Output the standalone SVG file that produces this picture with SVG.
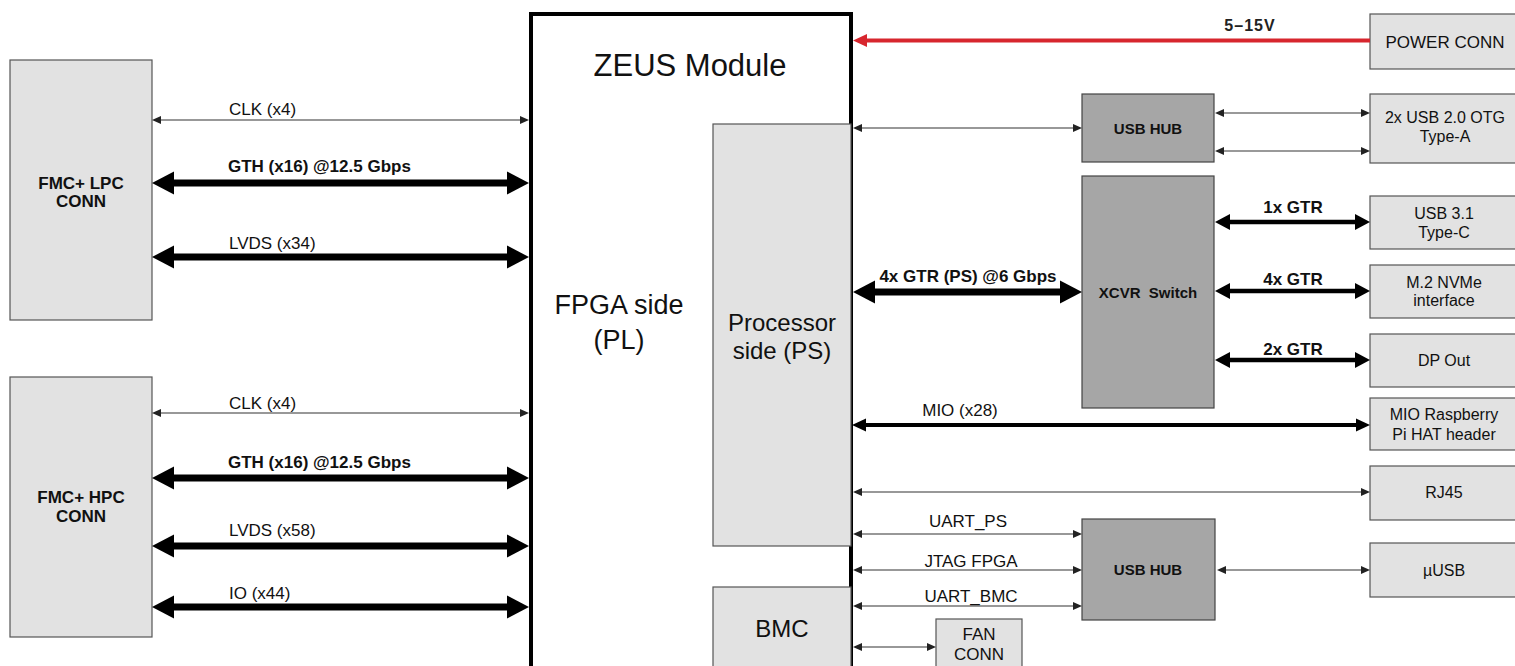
<svg xmlns="http://www.w3.org/2000/svg" width="1515" height="666" viewBox="0 0 1515 666">
<style>
text{font-family:"Liberation Sans",Arial,sans-serif;fill:#111;text-anchor:middle}
.lb{fill:#e2e2e2;stroke:#555;stroke-width:1.2}
.db{fill:#a6a6a6;stroke:#444;stroke-width:1.2}
.thin{stroke:#333;stroke-width:1.2;fill:none;marker-start:url(#mThin);marker-end:url(#mThin)}
.gthin{stroke:#777;stroke-width:1.6;fill:none;marker-start:url(#mThin);marker-end:url(#mThin)}
.thick{stroke:#000;stroke-width:7;fill:none;marker-start:url(#mThick);marker-end:url(#mThick)}
.gtr{stroke:#000;stroke-width:4.5;fill:none;marker-start:url(#mGtr);marker-end:url(#mGtr)}
.mio{stroke:#000;stroke-width:4;fill:none;marker-start:url(#mMio);marker-end:url(#mMio)}
.t17{font-size:17px}
.l17{font-size:17px;text-anchor:start}
.lb17{font-size:17px;font-weight:bold;text-anchor:start}
.b17{font-size:17px;font-weight:bold}
.r16{font-size:16px}
.b15{font-size:15px;font-weight:bold}
</style>
<defs>
<marker id="mThin" markerUnits="userSpaceOnUse" viewBox="0 -5 10 10" markerWidth="10" markerHeight="10" refX="0" refY="0" orient="auto-start-reverse"><path d="M0,-4L9,0L0,4z" fill="#222"/></marker>
<marker id="mThick" markerUnits="userSpaceOnUse" viewBox="0 -12 22 24" markerWidth="22" markerHeight="24" refX="0" refY="0" orient="auto-start-reverse"><path d="M0,-11.5L22,0L0,11.5z" fill="#000"/></marker>
<marker id="mGtr" markerUnits="userSpaceOnUse" viewBox="0 -9 16 18" markerWidth="16" markerHeight="18" refX="0" refY="0" orient="auto-start-reverse"><path d="M0,-8L15,0L0,8z" fill="#000"/></marker>
<marker id="mMio" markerUnits="userSpaceOnUse" viewBox="0 -7 14 14" markerWidth="14" markerHeight="14" refX="0" refY="0" orient="auto-start-reverse"><path d="M0,-6.5L14,0L0,6.5z" fill="#000"/></marker>
<marker id="mRed" markerUnits="userSpaceOnUse" viewBox="0 -7 14 14" markerWidth="14" markerHeight="14" refX="0" refY="0" orient="auto"><path d="M0,-6.5L14,0L0,6.5z" fill="#d7262e"/></marker>
</defs>

<g id="zeus">
<rect x="531" y="14" width="320" height="680" fill="#fff" stroke="#000" stroke-width="4"/>
<text x="690" y="76" style="font-size:31px">ZEUS Module</text>
<text x="619" y="314" style="font-size:27px">FPGA side</text>
<text x="619" y="349" style="font-size:27px">(PL)</text>
</g>
<g id="ps">
<rect class="lb" x="713" y="124" width="138" height="422"/>
<text x="782" y="331" style="font-size:24px">Processor</text>
<text x="782" y="359" style="font-size:24px">side (PS)</text>
</g>
<g id="bmc">
<rect class="lb" x="713" y="587" width="138" height="100"/>
<text x="782" y="637" style="font-size:24px">BMC</text>
</g>

<g id="fmc-lpc">
<rect class="lb" x="10" y="60" width="142" height="260"/>
<text class="b17" x="81" y="189">FMC+ LPC</text>
<text class="b17" x="81" y="207">CONN</text>
</g>
<g id="fmc-hpc">
<rect class="lb" x="10" y="377" width="142" height="260"/>
<text class="b17" x="81" y="503">FMC+ HPC</text>
<text class="b17" x="81" y="522">CONN</text>
</g>

<g id="power-conn">
<rect class="lb" x="1370" y="14" width="150" height="55"/>
<text class="t17" x="1445" y="48">POWER CONN</text>
</g>
<g id="usb-hub-top">
<rect class="db" x="1082" y="94" width="132" height="68"/>
<text class="b15" x="1148" y="134">USB HUB</text>
</g>
<g id="usb2">
<rect class="lb" x="1370" y="94" width="150" height="69"/>
<text class="r16" x="1445" y="123">2x USB 2.0 OTG</text>
<text class="r16" x="1445" y="142">Type-A</text>
</g>
<g id="xcvr">
<rect class="db" x="1082" y="176" width="132" height="232"/>
<text class="b15" x="1148" y="298" xml:space="preserve">XCVR  Switch</text>
</g>
<g id="usb31">
<rect class="lb" x="1370" y="196" width="150" height="53"/>
<text class="r16" x="1444" y="219">USB 3.1</text>
<text class="r16" x="1444" y="238">Type-C</text>
</g>
<g id="m2">
<rect class="lb" x="1370" y="265" width="150" height="53"/>
<text class="r16" x="1444" y="288">M.2 NVMe</text>
<text class="r16" x="1444" y="306">interface</text>
</g>
<g id="dp">
<rect class="lb" x="1370" y="334" width="150" height="53"/>
<text class="r16" x="1444" y="366">DP Out</text>
</g>
<g id="mio-hdr">
<rect class="lb" x="1370" y="398" width="150" height="52"/>
<text class="r16" x="1444" y="420">MIO Raspberry</text>
<text class="r16" x="1444" y="440">Pi HAT header</text>
</g>
<g id="rj45">
<rect class="lb" x="1370" y="466" width="150" height="54"/>
<text class="r16" x="1444" y="498">RJ45</text>
</g>
<g id="usb-hub-bot">
<rect class="db" x="1082" y="519" width="133" height="101"/>
<text class="b15" x="1148" y="575">USB HUB</text>
</g>
<g id="musb">
<rect class="lb" x="1370" y="543" width="150" height="54"/>
<text class="r16" x="1444" y="576">µUSB</text>
</g>
<g id="fan">
<rect class="lb" x="936" y="619" width="86" height="60"/>
<text class="t17" x="979" y="640">FAN</text>
<text class="t17" x="979" y="660">CONN</text>
</g>

<g id="connectors">
<line class="thin" x1="161" y1="120" x2="520" y2="120"/>
<line class="thick" x1="174" y1="183" x2="507" y2="183"/>
<line class="thick" x1="174" y1="257" x2="507" y2="257"/>
<line class="thin" x1="161" y1="413" x2="520" y2="413"/>
<line class="thick" x1="174" y1="478" x2="507" y2="478"/>
<line class="thick" x1="174" y1="546" x2="507" y2="546"/>
<line class="thick" x1="174" y1="607" x2="507" y2="607"/>
<line x1="1370" y1="40.5" x2="867" y2="40.5" stroke="#d7262e" stroke-width="4" marker-end="url(#mRed)"/>
<line class="thin" x1="862" y1="128" x2="1073" y2="128"/>
<line class="gthin" x1="1224" y1="113" x2="1361" y2="113"/>
<line class="gthin" x1="1224" y1="151" x2="1361" y2="151"/>
<line class="thick" x1="875" y1="292" x2="1060" y2="292"/>
<line class="gtr" x1="1230" y1="222" x2="1355" y2="222"/>
<line class="gtr" x1="1230" y1="291" x2="1355" y2="291"/>
<line class="gtr" x1="1230" y1="360" x2="1355" y2="360"/>
<line class="mio" x1="866" y1="425" x2="1356" y2="425"/>
<line class="thin" x1="862" y1="492" x2="1361" y2="492"/>
<line class="thin" x1="862" y1="534" x2="1073" y2="534"/>
<line class="thin" x1="862" y1="570" x2="1073" y2="570"/>
<line class="thin" x1="862" y1="606" x2="1073" y2="606"/>
<line class="thin" x1="1226" y1="570" x2="1361" y2="570"/>
<line class="thin" x1="862" y1="647" x2="927" y2="647"/>
<text class="l17" x="229" y="115">CLK (x4)</text>
<text class="lb17" x="228" y="172">GTH (x16) @12.5 Gbps</text>
<text class="l17" x="229" y="249">LVDS (x34)</text>
<text class="l17" x="229" y="409">CLK (x4)</text>
<text class="lb17" x="228" y="468">GTH (x16) @12.5 Gbps</text>
<text class="l17" x="229" y="536">LVDS (x58)</text>
<text class="l17" x="229" y="599">IO (x44)</text>
<text x="1250" y="31" style="font-size:16px;font-weight:bold;fill:#222;letter-spacing:1px">5–15V</text>
<text class="b17" x="968" y="282">4x GTR (PS) @6 Gbps</text>
<text class="b17" x="1293" y="213">1x GTR</text>
<text class="b17" x="1293" y="285">4x GTR</text>
<text class="b17" x="1293" y="355">2x GTR</text>
<text class="t17" x="960" y="416">MIO (x28)</text>
<text class="t17" x="968" y="527">UART_PS</text>
<text class="t17" x="971" y="567">JTAG FPGA</text>
<text class="t17" x="971" y="602">UART_BMC</text>
</g>
</svg>
